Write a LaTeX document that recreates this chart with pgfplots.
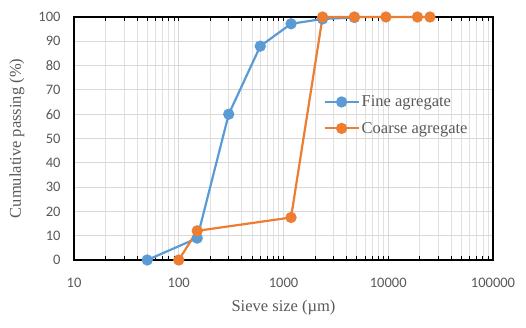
\documentclass[border=0pt]{standalone}
\usepackage{pgfplots}
\pgfplotsset{compat=1.18}
\usepackage{fontspec}
\setmainfont{Liberation Serif}
\newfontfamily\calibri{Carlito}
\definecolor{fineblue}{HTML}{5B9BD5}
\definecolor{coarseor}{HTML}{ED7D31}
\definecolor{txtgray}{HTML}{595959}
\definecolor{gridgray}{HTML}{D9D9D9}
\begin{document}
\begin{tikzpicture}
\begin{axis}[
scale only axis,
width=419pt,
height=243pt,
xmode=log,
xmin=10, xmax=100000,
ymin=0, ymax=100,
clip=false,
xtick={10,100,1000,10000,100000},
xticklabels={10,100,1000,10000,100000},
ytick={0,10,20,30,40,50,60,70,80,90,100},
yticklabels={0,10,20,30,40,50,60,70,80,90,100},
ticklabel style={font=\calibri\fontsize{14.5}{16}\selectfont, text=txtgray},
xticklabel style={yshift=-15pt},
yticklabel style={xshift=-10pt},
xmajorgrids, xminorgrids, ymajorgrids,
major grid style={gridgray, line width=0.9pt},
minor grid style={gridgray!80, line width=0.7pt},
axis line style={black, line width=1.3pt},
tick align=inside,
ytick style={draw=none},
xtick style={black, line width=0.9pt},
major tick length=0pt,
minor tick length=4pt,
xlabel={Sieve size (µm)},
ylabel={Cumulative passing (\%)},
label style={font=\fontsize{16.5}{18}\selectfont, text=txtgray},
xlabel style={at={(axis description cs:0.5,-0.1975)}, anchor=center},
ylabel style={at={(axis description cs:-0.136,0.5)}, anchor=center},
legend style={at={(rel axis cs:0.595,0.685)}, anchor=north west, draw=none, fill=none,
  font=\fontsize{16.5}{18}\selectfont, text=txtgray, row sep=10pt,
  cells={anchor=west}, inner sep=0pt},
legend image code/.code={\draw[mark repeat=2,mark phase=2,#1] plot coordinates {(0pt,0pt) (17pt,0pt) (34pt,0pt)};},
every axis plot/.append style={line width=2.2pt, mark=*, mark size=4.5pt},
]
\addplot[fineblue, mark options={fill=fineblue, draw=fineblue}] coordinates {
(50,0) (150,9) (300,60) (600,88) (1180,97.2) (2360,99.2) (4750,99.8)};
\addlegendentry{Fine agregate}
\addplot[coarseor, mark options={fill=coarseor, draw=coarseor}] coordinates {
(100,0) (150,12) (1180,17.5) (2360,100) (4750,100) (9500,100) (19000,100) (25000,100)};
\addlegendentry{Coarse agregate}
\end{axis}
\pgfresetboundingbox
\path (current axis.south west) ++(-74pt,-67pt) rectangle ++(526pt,327pt);
\end{tikzpicture}
\end{document}
